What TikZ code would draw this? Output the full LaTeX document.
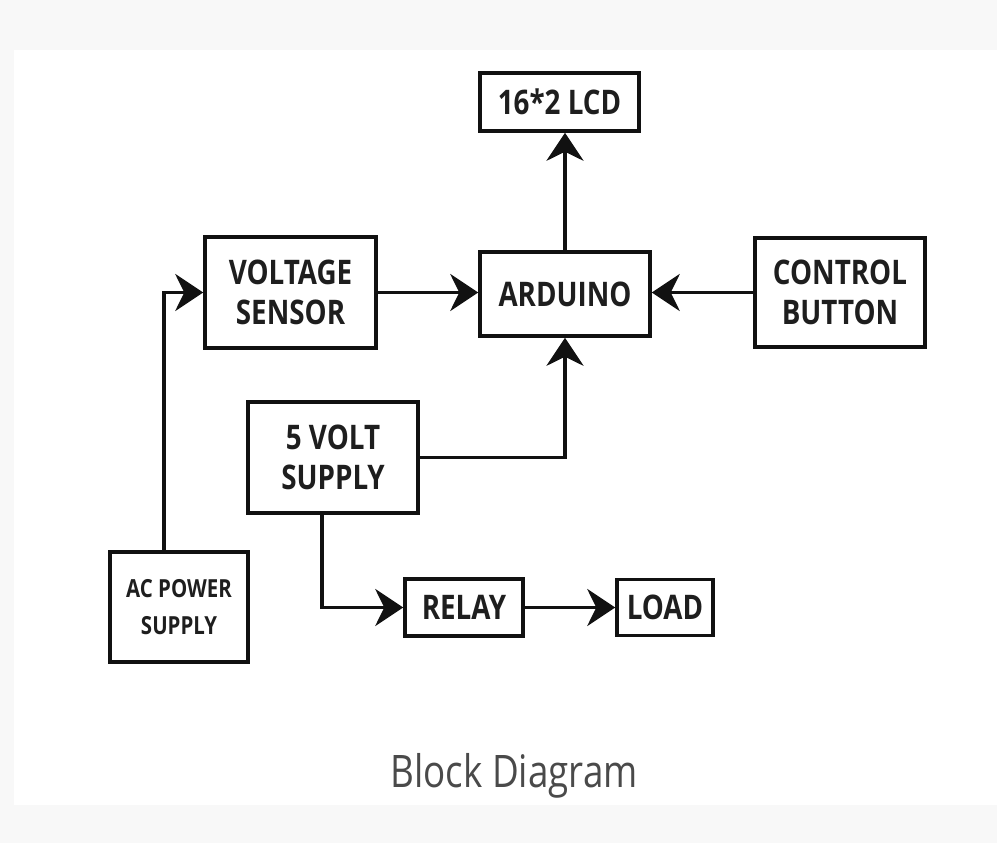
\documentclass[tikz,border=0pt]{standalone}
\usepackage{fontspec}
\setmainfont{Open Sans}[FakeStretch=0.82]
\usetikzlibrary{arrows.meta}
\definecolor{frame}{HTML}{F8F8F8}
\definecolor{ink}{HTML}{111111}
\definecolor{txt}{HTML}{1E1E1E}
\definecolor{caption}{HTML}{4A4A4A}
\tikzset{
  blk/.style={draw=ink, line width=3.5bp, inner sep=0pt, align=center,
    text=txt, font=\bfseries\fontsize{34}{40}\selectfont},
  smallblk/.style={blk, font=\bfseries\fontsize{25}{37}\selectfont},
  conn/.style={draw=ink, line width=3.5bp,
    -{Stealth[length=28bp,width=37bp,inset=9bp]}},
}
\begin{document}
\begin{tikzpicture}[x=1bp,y=-1bp]
\useasboundingbox (0,0) rectangle (997,843);
\fill[frame] (0,0) rectangle (997,843);
\fill[white] (14,50) rectangle (997,805);

\node[blk, minimum width=159bp, minimum height=58bp] (lcd) at (559.5,102) {16*2 LCD};
\node[blk, minimum width=170bp, minimum height=84bp] (ard) at (565,294) {ARDUINO};
\node[blk, minimum width=171bp, minimum height=111bp] (vs) at (290.5,292.5) {VOLTAGE\\SENSOR};
\node[blk, minimum width=170bp, minimum height=109bp] (cb) at (840,292.5) {CONTROL\\BUTTON};
\node[blk, minimum width=170bp, minimum height=111bp] (sv) at (333,457.5) {5 VOLT\\SUPPLY};
\node[smallblk, minimum width=138bp, minimum height=110bp] (ac) at (179,607) {AC POWER\\SUPPLY};
\node[blk, minimum width=118bp, minimum height=57bp] (relay) at (464,607.5) {RELAY};
\node[blk, minimum width=96bp, minimum height=56bp] (load) at (665,607.5) {LOAD};

\node[font=\fontsize{45}{50}\selectfont, text=caption, anchor=base] (cap) at (514,787) {Block Diagram};

\draw[conn] (ard.north) -- (lcd.south -| ard.north);
\draw[conn] (vs.east) -- (vs.east -| ard.west);
\draw[conn] (cb.west) -- (cb.west -| ard.east);
\draw[conn] ([xshift=-15bp]ac.north) |- (vs.west);
\draw[conn] (sv.east) -| (ard.south);
\draw[conn] ([xshift=-11bp]sv.south) |- (relay.west);
\draw[conn] (relay.east) -- (load.west);
\end{tikzpicture}
\end{document}
